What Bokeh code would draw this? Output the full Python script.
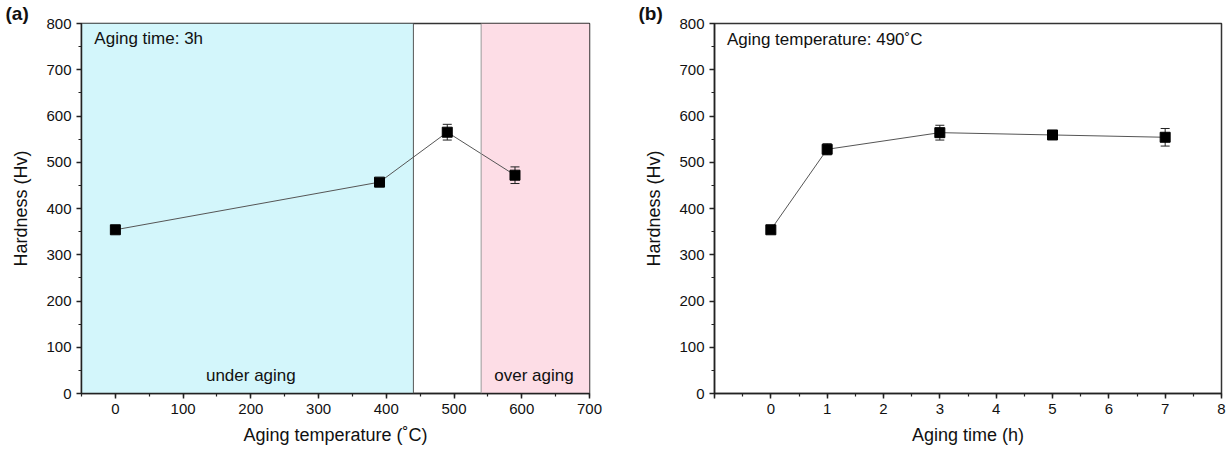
from bokeh.plotting import figure
from bokeh.layouts import row
from bokeh.models import (ColumnDataSource, Whisker, TeeHead, Label, BoxAnnotation,
                          Span, SingleIntervalTicker, Range1d, Title)
from bokeh.embed import file_html
from bokeh.resources import INLINE

# ---- data ----
temp_c = [0, 390, 490, 590]
hard_a = [354, 457, 565, 472]
err_a = [8, 5, 17, 18]

time_h = [0, 1, 3, 5, 7]
hard_b = [354, 528, 564, 559, 554]
err_b = [6, 12, 16, 8, 19]

under_region = [-50, 440]
over_region = [540, 700]

FONT = "Liberation Sans"


def style(p):
    p.toolbar_location = None
    p.xgrid.visible = False
    p.ygrid.visible = False
    p.outline_line_color = "#333333"
    p.outline_line_width = 1.5
    p.background_fill_color = "white"
    p.border_fill_color = "white"
    for ax in (p.xaxis[0], p.yaxis[0]):
        ax.axis_line_color = "#222222"
        ax.axis_line_width = 1.5
        ax.major_tick_line_color = "#222222"
        ax.major_tick_line_width = 1.5
        ax.minor_tick_line_color = "#222222"
        ax.minor_tick_line_width = 1.2
        ax.major_tick_in = 0
        ax.major_tick_out = 5
        ax.minor_tick_in = 0
        ax.minor_tick_out = 3
        ax.major_label_text_font = FONT
        ax.major_label_text_font_size = "15px"
        ax.major_label_text_color = "#111111"
        ax.axis_label_text_font = FONT
        ax.axis_label_text_font_size = "18px"
        ax.axis_label_text_font_style = "normal"
        ax.axis_label_text_color = "#111111"
    p.yaxis[0].ticker = SingleIntervalTicker(interval=100, num_minor_ticks=2)
    p.yaxis[0].axis_label_standoff = 12
    p.xaxis[0].axis_label_standoff = 8


def add_series(p, xs, ys, es):
    src = ColumnDataSource(dict(x=xs, y=ys,
                                upper=[y + e for y, e in zip(ys, es)],
                                lower=[y - e for y, e in zip(ys, es)]))
    p.line("x", "y", source=src, line_color="#555555", line_width=1)
    w = Whisker(base="x", upper="upper", lower="lower", source=src,
                line_color="#222222", line_width=1,
                upper_head=TeeHead(size=9, line_color="#222222", line_width=1),
                lower_head=TeeHead(size=9, line_color="#222222", line_width=1))
    p.add_layout(w)
    p.scatter("x", "y", source=src, marker="square", size=10,
              fill_color="black", line_color="black")


def panel_tag(p, text, offset):
    t = Title(text=text, align="left", offset=offset, text_font=FONT,
              text_font_size="19px", text_font_style="bold",
              text_color="#111111", standoff=0)
    p.add_layout(t, "above")


# ---- panel (a) ----
pa = figure(width=608, height=450, output_backend="svg", toolbar_location=None,
            x_range=Range1d(-50, 700), y_range=Range1d(0, 800),
            min_border_left=81, min_border_right=19, min_border_top=0,
            min_border_bottom=57)
style(pa)
pa.xaxis[0].ticker = SingleIntervalTicker(interval=100, num_minor_ticks=2)
pa.xaxis.axis_label = "Aging temperature (˚C)"
pa.yaxis.axis_label = "Hardness (Hv)"

pa.add_layout(BoxAnnotation(left=under_region[0], right=under_region[1],
                            fill_color="#D3F6FB", fill_alpha=1, line_alpha=0,
                            level="underlay"))
pa.add_layout(BoxAnnotation(left=over_region[0], right=over_region[1],
                            fill_color="#FDDDE6", fill_alpha=1, line_alpha=0,
                            level="underlay"))
pa.add_layout(Span(location=under_region[1], dimension="height",
                   line_color="#555555", line_width=1))
pa.add_layout(Span(location=over_region[0], dimension="height",
                   line_color="#999999", line_width=1))

add_series(pa, temp_c, hard_a, err_a)

pa.add_layout(Label(x=-31, y=768, text="Aging time: 3h", text_font=FONT,
                    text_font_size="17px", text_baseline="middle",
                    text_color="#111111"))
pa.add_layout(Label(x=200, y=38, text="under aging", text_font=FONT,
                    text_font_size="17px", text_baseline="middle",
                    text_align="center", text_color="#111111"))
pa.add_layout(Label(x=618, y=38, text="over aging", text_font=FONT,
                    text_font_size="17px", text_baseline="middle",
                    text_align="center", text_color="#111111"))
panel_tag(pa, "(a)", -76)

# ---- panel (b) ----
pb = figure(width=618, height=450, output_backend="svg", toolbar_location=None,
            x_range=Range1d(-1, 8), y_range=Range1d(0, 800),
            min_border_left=106, min_border_right=5, min_border_top=0,
            min_border_bottom=57)
style(pb)
pb.xaxis[0].ticker = SingleIntervalTicker(interval=1, num_minor_ticks=2)
pb.xaxis[0].major_label_overrides = {-1: ""}
pb.xaxis.axis_label = "Aging time (h)"
pb.yaxis.axis_label = "Hardness (Hv)"

add_series(pb, time_h, hard_b, err_b)

pb.add_layout(Label(x=-0.78, y=765, text="Aging temperature: 490˚C", text_font=FONT,
                    text_font_size="17px", text_baseline="middle",
                    text_color="#111111"))
panel_tag(pb, "(b)", -76)

layout = row(pa, pb)
open("out.html", "w").write(file_html(layout, INLINE))
